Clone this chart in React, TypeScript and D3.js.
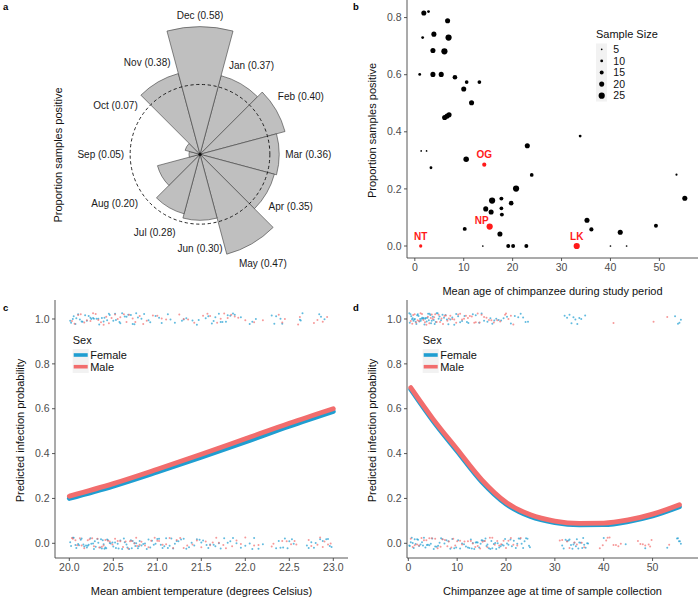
import React from 'react';
import * as d3 from 'd3';

// ---------- Panel a data ----------
const months = ['Jan', 'Feb', 'Mar', 'Apr', 'May', 'Jun', 'Jul', 'Aug', 'Sep', 'Oct', 'Nov', 'Dec'];
const monthProp = [0.37, 0.40, 0.36, 0.35, 0.47, 0.30, 0.28, 0.20, 0.05, 0.07, 0.38, 0.58];

// ---------- Panel b data ----------
const siteAge = [1.84, 2.8, 6.7, 1.6, 3.9, 6.9, 3.7, 6.05, 1.0, 3.7, 5.4, 8.2, 10.6, 13.2, 10.0, 11.6, 6.1, 6.6, 7.0, 1.3, 2.4, 3.3, 10.5, 23.0, 33.8, 23.9, 20.7, 15.8, 17.7, 19.7, 14.5, 15.6, 17.7, 17.8, 10.2, 17.4, 13.9, 19.1, 20.1, 22.8, 40.0, 43.3, 35.2, 36.1, 42.0, 49.3, 53.5, 55.2];
const siteProp = [0.816, 0.821, 0.789, 0.730, 0.742, 0.730, 0.685, 0.682, 0.601, 0.601, 0.601, 0.591, 0.574, 0.574, 0.550, 0.502, 0.450, 0.455, 0.460, 0.333, 0.333, 0.274, 0.304, 0.351, 0.385, 0.249, 0.201, 0.159, 0.166, 0.150, 0.130, 0.119, 0.132, 0.110, 0.060, 0.042, 0, 0, 0, 0, 0, 0, 0.090, 0.058, 0.048, 0.071, 0.250, 0.167];
const siteN = [20, 10, 20, 10, 20, 25, 20, 25, 10, 20, 20, 18, 14, 14, 20, 20, 20, 20, 20, 5, 5, 10, 22, 20, 10, 14, 25, 25, 15, 18, 20, 20, 14, 15, 15, 20, 5, 15, 15, 15, 5, 5, 20, 16, 20, 15, 7, 20];
const namedIds = ['OG', 'NP', 'NT', 'LK'];
const namedAge = [14.2, 15.3, 1.2, 33.1];
const namedProp = [0.285, 0.068, 0, 0];
const namedN = [16, 25, 12, 25];
const sizeLegend = [5, 10, 15, 20, 25];

// ---------- Panel c data ----------
const tempX = [20.0, 20.5, 21.0, 21.5, 22.0, 22.5, 23.0];
const tempPredFemale = [0.200, 0.255, 0.318, 0.384, 0.452, 0.522, 0.588];
const tempPredMale = [0.210, 0.266, 0.330, 0.397, 0.466, 0.535, 0.600];
const tempPosFemale = [20.02, 20.05, 20.08, 20.12, 20.15, 20.18, 20.22, 20.25, 20.28, 20.31, 20.34, 20.37, 20.4, 20.43, 20.46, 20.5, 20.53, 20.57, 20.6, 20.63, 20.67, 20.7, 20.74, 20.78, 20.85, 20.92, 20.98, 21.05, 21.12, 21.2, 21.28, 21.33, 21.4, 21.47, 21.55, 21.62, 21.66, 21.7, 21.74, 21.78, 21.83, 21.88, 21.95, 22.05, 22.12, 22.3, 22.35, 22.42, 22.62, 22.65, 22.84, 22.9,
  20.01, 20.04, 20.07, 20.1, 20.14, 20.2, 20.24, 20.27, 20.33, 20.39, 20.45, 20.52, 20.58, 20.65, 20.72, 20.76, 20.82, 20.9, 21.02, 21.15, 21.3, 21.45, 21.58, 21.64, 21.72, 21.8, 21.86, 22.08, 22.33, 22.4, 22.63, 22.86];
const tempPosMale = [20.03, 20.1, 20.17, 20.24, 20.3, 20.36, 20.42, 20.48, 20.55, 20.62, 20.68, 20.72, 20.8, 20.88, 21.0, 21.1, 21.25, 21.35, 21.52, 21.6, 21.68, 21.76, 21.84, 21.92, 22.0, 22.2, 22.38, 22.45, 22.6, 22.78, 22.88, 22.93,
  20.06, 20.13, 20.2, 20.27, 20.33, 20.39, 20.45, 20.52, 20.58, 20.65, 20.75, 20.84, 20.95, 21.05, 21.3, 21.42, 21.57, 21.72, 21.8, 21.88, 22.1, 22.42, 22.62, 22.82];
const tempNegFemale = [20.02, 20.05, 20.08, 20.1, 20.13, 20.16, 20.19, 20.2, 20.22, 20.25, 20.28, 20.3, 20.33, 20.36, 20.38, 20.4, 20.42, 20.44, 20.47, 20.5, 20.53, 20.56, 20.6, 20.63, 20.66, 20.7, 20.72, 20.75, 20.78, 20.8, 20.84, 20.88, 20.92, 20.96, 21.0, 21.04, 21.08, 21.12, 21.16, 21.2, 21.24, 21.3, 21.36, 21.42, 21.48, 21.52, 21.56, 21.6, 21.66, 21.72, 21.8, 21.86, 21.95, 22.05, 22.1, 22.2, 22.35, 22.4, 22.45, 22.5, 22.55, 22.7, 22.75, 22.8, 22.85, 22.92, 22.96,
  20.01, 20.04, 20.07, 20.11, 20.14, 20.17, 20.21, 20.24, 20.27, 20.29, 20.32, 20.35, 20.37, 20.39, 20.41, 20.43, 20.46, 20.49, 20.52, 20.55, 20.58, 20.62, 20.65, 20.68, 20.71, 20.74, 20.76, 20.79, 20.82, 20.86, 20.9, 20.94, 20.98, 21.02, 21.06, 21.1, 21.14, 21.18, 21.22, 21.27, 21.33, 21.39, 21.45, 21.5, 21.58, 21.64, 21.7, 21.76, 21.83, 21.9, 22.0, 22.08, 22.15, 22.38, 22.43, 22.48, 22.53, 22.72, 22.78, 22.88, 22.94, 22.98];
const tempNegMale = [20.04, 20.09, 20.14, 20.21, 20.26, 20.32, 20.37, 20.41, 20.46, 20.52, 20.58, 20.64, 20.69, 20.74, 20.77, 20.82, 20.9, 20.97, 21.02, 21.1, 21.18, 21.26, 21.34, 21.45, 21.55, 21.63, 21.7, 21.78, 21.9, 22.0, 22.15, 22.32, 22.42, 22.52, 22.58, 22.72, 22.82, 22.88, 22.94,
  20.03, 20.07, 20.12, 20.17, 20.23, 20.28, 20.34, 20.39, 20.44, 20.49, 20.55, 20.61, 20.67, 20.71, 20.76, 20.8, 20.86, 20.93, 21.0, 21.06, 21.14, 21.22, 21.3, 21.4, 21.5, 21.6, 21.67, 21.75, 21.85, 21.95, 22.1, 22.3, 22.47, 22.56, 22.75, 22.85, 22.9, 22.97];

// ---------- Panel d data ----------
const ageX = [0.5, 5, 10, 15, 20, 25, 30, 35, 40, 45, 50, 55.5];
const agePredFemale = [0.686, 0.547, 0.410, 0.275, 0.175, 0.119, 0.092, 0.082, 0.083, 0.097, 0.122, 0.163];
const agePredMale = [0.694, 0.556, 0.419, 0.284, 0.183, 0.127, 0.099, 0.089, 0.090, 0.104, 0.130, 0.172];
const agePosFemale = [0.3, 0.6, 0.9, 1.2, 1.5, 1.8, 2.1, 2.4, 2.7, 3.0, 3.3, 3.6, 3.9, 4.2, 4.5, 4.8, 5.2, 5.6, 6.0, 6.4, 7.0, 7.6, 8.2, 9.0, 9.8, 10.6, 11.5, 12.3, 13.2, 14.5, 15.5, 16.8, 17.6, 18.5, 19.5, 21.0, 22.5, 23.0, 24.0, 24.5, 32.0, 33.0, 33.8, 34.6, 35.4, 36.2, 54.6, 55.2, 55.8,
  0.2, 0.45, 0.75, 1.05, 1.35, 1.65, 1.95, 2.25, 2.55, 2.85, 3.15, 3.45, 3.75, 4.05, 4.35, 4.65, 5.0, 5.4, 5.8, 6.2, 6.7, 7.3, 7.9, 8.6, 9.4, 10.2, 11.0, 12.0, 13.8, 15.0, 16.2, 17.2, 18.0, 19.0, 20.2, 21.8, 23.5, 32.5, 33.4, 34.2, 35.0, 55.5];
const agePosMale = [0.5, 1.0, 1.6, 2.2, 2.8, 3.4, 4.0, 4.6, 5.0, 5.5, 6.2, 6.8, 7.4, 8.0, 8.6, 9.4, 10.2, 11.0, 11.8, 12.6, 13.5, 14.2, 15.0, 16.0, 17.0, 18.2, 19.8, 20.5, 21.5, 42.0, 50.2, 53.0,
  0.8, 1.3, 1.9, 2.5, 3.1, 3.7, 4.3, 4.8, 5.3, 5.8, 6.5, 7.1, 7.7, 8.3, 9.0, 9.8, 10.6, 11.4, 12.2, 13.0, 13.8, 14.6, 15.5, 16.5, 17.5, 18.8, 20.0, 21.0];
const ageNegFemale = [0.3, 0.7, 1.1, 1.5, 2.0, 2.5, 3.0, 3.5, 4.0, 4.6, 5.2, 5.8, 6.4, 7.0, 7.8, 8.6, 9.4, 10.2, 11.0, 11.8, 12.5, 13.0, 13.5, 14.0, 14.5, 15.0, 15.5, 16.0, 16.5, 17.0, 17.5, 18.0, 18.6, 19.2, 19.8, 20.5, 21.2, 22.0, 22.6, 23.2, 23.8, 24.4, 24.9, 31.5, 32.2, 32.8, 33.3, 33.8, 34.3, 34.8, 35.3, 35.8, 36.3, 36.8, 40.0, 44.5, 48.5, 53.0, 55.0, 55.4, 55.8,
  0.2, 0.5, 0.9, 1.3, 1.8, 2.2, 2.8, 3.2, 3.8, 4.3, 4.9, 5.5, 6.1, 6.7, 7.4, 8.2, 9.0, 9.8, 10.6, 11.4, 12.2, 12.8, 13.2, 13.8, 14.2, 14.8, 15.2, 15.8, 16.2, 16.8, 17.2, 17.8, 18.3, 18.9, 19.5, 20.2, 20.9, 21.6, 22.3, 22.9, 23.5, 24.1, 24.7, 31.8, 32.5, 33.0, 33.6, 34.0, 34.5, 35.0, 35.6, 36.0, 36.6, 55.2, 55.6];
const ageNegMale = [0.5, 1.3, 2.2, 3.2, 4.3, 5.5, 6.6, 7.5, 8.3, 9.2, 10.0, 11.5, 12.2, 13.2, 14.2, 15.2, 16.2, 17.2, 18.2, 19.0, 20.0, 21.0, 22.3, 31.0, 32.5, 34.0, 35.5, 39.2, 40.5, 41.2, 42.5, 43.5, 47.0, 48.0, 49.2, 49.8, 53.4,
  0.9, 1.8, 2.7, 3.7, 4.8, 6.0, 7.0, 8.0, 8.8, 9.6, 10.6, 11.0, 12.8, 13.7, 14.7, 15.7, 16.7, 17.7, 18.6, 19.5, 20.5, 21.5, 23.0, 31.5, 33.0, 34.5, 36.0, 39.8, 40.8, 42.0, 43.0, 47.5, 48.5, 49.5];

const sexLabels = ['Female', 'Male'];

// ---------- styles ----------
const FONT = '"Liberation Sans", Arial, Helvetica, sans-serif';
const BLUE = '#1F9ED1';
const RED = '#F26D6D';
const TICK_COLOR = '#4d4d4d';
const AXIS_COLOR = '#444';
const POLAR_LABEL_NUDGE: Record<string, number> = { Jun: 13 };

const fmt1 = d3.format('.1f');
const fmt0 = d3.format('d');

let measureCtx: CanvasRenderingContext2D | null = null;
function textWidth(t: string, font: string) {
  if (!measureCtx) measureCtx = document.createElement('canvas').getContext('2d');
  if (!measureCtx) return t.length * 5.5;
  measureCtx.font = font;
  return measureCtx.measureText(t).width;
}

// deterministic hash-based display jitter (vertical spread of the 0/1 rows)
function jitterY(i: number, amp: number) {
  const h = Math.sin(i * 12.9898 + 78.233) * 43758.5453;
  return ((h - Math.floor(h)) - 0.5) * 2 * amp;
}

type Lin = d3.ScaleLinear<number, number>;

function Axes({ x, y, xTicks, yTicks, xFmt, yFmt, xTitle, yTitle }: any) {
  const [x0, x1] = (x as Lin).range();
  const [y0, y1] = (y as Lin).range();
  return (
    <g fontFamily={FONT}>
      <line x1={x0} x2={x1} y1={y0} y2={y0} stroke={AXIS_COLOR} strokeWidth={0.9} />
      <line x1={x0} x2={x0} y1={y0} y2={y1} stroke={AXIS_COLOR} strokeWidth={0.9} />
      {xTicks.map((t: number) => (
        <g key={'x' + t}>
          <line x1={x(t)} x2={x(t)} y1={y0} y2={y0 + 3} stroke={AXIS_COLOR} strokeWidth={0.9} />
          <text x={x(t)} y={y0 + 13.2} fontSize={10.5} fill={TICK_COLOR} textAnchor="middle">{xFmt(t)}</text>
        </g>
      ))}
      {yTicks.map((t: number) => (
        <g key={'y' + t}>
          <line x1={x0 - 3} x2={x0} y1={y(t)} y2={y(t)} stroke={AXIS_COLOR} strokeWidth={0.9} />
          <text x={x0 - 5.5} y={y(t)} dy="0.35em" fontSize={10.5} fill={TICK_COLOR} textAnchor="end">{yFmt(t)}</text>
        </g>
      ))}
      <text x={(x0 + x1) / 2} y={y0 + 36.5} fontSize={11} textAnchor="middle" fill="#111">{xTitle}</text>
      <text transform={`translate(${x0 - 35},${(y0 + y1) / 2 + 1.5}) rotate(-90)`} dy="0.35em" fontSize={11} textAnchor="middle" fill="#111">{yTitle}</text>
    </g>
  );
}

function PanelA() {
  const cx = 200, cy = 154.3;
  const r = d3.scaleLinear().domain([0, 1]).range([0, 220]);
  const meanVal = d3.mean(monthProp) as number;
  const arc = d3.arc<any>();
  const labelFont = `10px ${FONT}`;
  return (
    <g fontFamily={FONT}>
      <g transform={`translate(${cx},${cy})`}>
        {months.map((m, i) => {
          const ang = ((i + 1) % 12) * Math.PI / 6;
          const d = arc({ innerRadius: 0, outerRadius: r(monthProp[i]), startAngle: ang - Math.PI / 12, endAngle: ang + Math.PI / 12 }) as string;
          return <path key={m} d={d} fill="#bfbfbf" stroke="#3a3a3a" strokeWidth={0.6} />;
        })}
        <circle r={r(meanVal)} fill="none" stroke="#111" strokeWidth={0.9} strokeDasharray="3.2,2.6" />
        <circle r={1.6} fill="#111" />
        {months.map((m, i) => {
          const ang = ((i + 1) % 12) * Math.PI / 6;
          const label = `${m} (${d3.format('.2f')(monthProp[i])})`;
          const w = textWidth(label, labelFont);
          const R = r(Math.max(monthProp[i], meanVal)) + 6 + (POLAR_LABEL_NUDGE[m] || 0);
          const dist = R + (w / 2) * Math.abs(Math.sin(ang)) + 5 * Math.abs(Math.cos(ang));
          return (
            <text key={'l' + m} x={dist * Math.sin(ang)} y={-dist * Math.cos(ang)} dy="0.35em" fontSize={10} textAnchor="middle" fill="#1a1a1a">{label}</text>
          );
        })}
      </g>
      <text transform={`translate(58.3,155) rotate(-90)`} dy="0.35em" fontSize={11} textAnchor="middle" fill="#111">Proportion samples positive</text>
    </g>
  );
}

function PanelB() {
  const x = d3.scaleLinear().domain([-1.6, 57.9]).range([407, 698]);
  const y = d3.scaleLinear().domain([-0.042, 0.8616]).range([258, 0]);
  const size = d3.scaleLinear().domain([5, 25]).range([0.85, 3.1]);
  const labelDx: Record<string, number> = { NP: -8 };
  const labelDy: Record<string, number> = { NP: -6 };
  return (
    <g fontFamily={FONT}>
      <Axes x={x} y={y} xTicks={[0, 10, 20, 30, 40, 50]} yTicks={[0, 0.2, 0.4, 0.6, 0.8]} xFmt={fmt0} yFmt={fmt1}
        xTitle="Mean age of chimpanzee during study period" yTitle="Proportion samples positive" />
      {siteAge.map((a, i) => (
        <circle key={'s' + i} cx={x(a)} cy={y(siteProp[i])} r={size(siteN[i])} fill="#000" />
      ))}
      {namedIds.map((id, i) => (
        <g key={id}>
          <circle cx={x(namedAge[i])} cy={y(namedProp[i])} r={size(namedN[i])} fill="#ff1a1a" />
          <text x={x(namedAge[i]) + (labelDx[id] || 0)} y={y(namedProp[i]) + (labelDy[id] ?? -10)} dy="0.35em"
            fontSize={10} fontWeight="bold" fill="#ff1a1a" textAnchor="middle">{id}</text>
        </g>
      ))}
      <text x={596} y={34} dy="0.35em" fontSize={11} fill="#111">Sample Size</text>
      <rect x={596} y={43.5} width={11} height={58} fill="#f2f2f2" />
      {sizeLegend.map((s, i) => (
        <g key={'lg' + s}>
          <circle cx={601.7} cy={49.3 + i * 11.6} r={size(s)} fill="#000" />
          <text x={613.3} y={49.3 + i * 11.6} dy="0.35em" fontSize={10.5} fill="#111">{s}</text>
        </g>
      ))}
    </g>
  );
}

function SexLegend({ x0, y0 }: { x0: number; y0: number }) {
  const colors = [BLUE, RED];
  return (
    <g fontFamily={FONT}>
      <text x={x0} y={y0} dy="0.35em" fontSize={11} fill="#111">Sex</text>
      <rect x={x0} y={y0 + 9} width={16} height={24} fill="#f2f2f2" />
      {sexLabels.map((s, i) => (
        <g key={s}>
          <line x1={x0 + 1} x2={x0 + 15} y1={y0 + 15 + i * 11.7} y2={y0 + 15 + i * 11.7} stroke={colors[i]} strokeWidth={3.6} />
          <text x={x0 + 17.5} y={y0 + 15 + i * 11.7} dy="0.35em" fontSize={11} fill="#111">{s}</text>
        </g>
      ))}
    </g>
  );
}

function ModelPanel({ x, y, xTicks, xFmt, xTitle, curveX, fem, mal, posF, posM, negF, negM, legendX }: any) {
  const line = d3.line<number>().x((_, i) => x(curveX[i])).y((d) => y(d)).curve(d3.curveMonotoneX);
  const pts = (arr: number[], level: number, color: string, seed: number) =>
    arr.map((v, i) => (
      <circle key={color + level + i} cx={x(v)} cy={y(level + jitterY(i + seed, 0.026))} r={1.0} fill={color} opacity={0.7} />
    ));
  return (
    <g>
      <Axes x={x} y={y} xTicks={xTicks} yTicks={[0, 0.2, 0.4, 0.6, 0.8, 1.0]} xFmt={xFmt} yFmt={fmt1}
        xTitle={xTitle} yTitle="Predicted infection probability" />
      {pts(posF, 1, BLUE, 0)}
      {pts(posM, 1, RED, 500)}
      {pts(negF, 0, BLUE, 1000)}
      {pts(negM, 0, RED, 1500)}
      <path d={line(fem) as string} fill="none" stroke={BLUE} strokeWidth={4.8} strokeLinecap="round" />
      <path d={line(mal) as string} fill="none" stroke={RED} strokeWidth={4.8} strokeLinecap="round" />
      <SexLegend x0={legendX} y0={340} />
    </g>
  );
}

export default function App() {
  const xC = d3.scaleLinear().domain([19.8375, 23.167]).range([55, 348]);
  const yC = d3.scaleLinear().domain([-0.0655, 1.0847]).range([558, 300]);
  const xD = d3.scaleLinear().domain([-0.27, 59.3]).range([407, 698]);
  const yD = d3.scaleLinear().domain([-0.0655, 1.0847]).range([558, 300]);
  return (
    <svg width={700} height={599} style={{ position: 'absolute', left: 0, top: 0, background: '#fff' }} fontFamily={FONT}>
      <rect width={700} height={599} fill="#fff" />
      <PanelA />
      <PanelB />
      <ModelPanel x={xC} y={yC} xTicks={[20, 20.5, 21, 21.5, 22, 22.5, 23]} xFmt={fmt1}
        xTitle="Mean ambient temperature (degrees Celsius)" curveX={tempX} fem={tempPredFemale} mal={tempPredMale}
        posF={tempPosFemale} posM={tempPosMale} negF={tempNegFemale} negM={tempNegMale} legendX={72.7} />
      <ModelPanel x={xD} y={yD} xTicks={[0, 10, 20, 30, 40, 50]} xFmt={fmt0}
        xTitle="Chimpanzee age at time of sample collection" curveX={ageX} fem={agePredFemale} mal={agePredMale}
        posF={agePosFemale} posM={agePosMale} negF={ageNegFemale} negM={ageNegMale} legendX={422.7} />
      <g fontFamily={FONT} fontWeight="bold" fontSize={9.5} fill="#000">
        <text x={3} y={10}>a</text>
        <text x={353} y={10}>b</text>
        <text x={3} y={311}>c</text>
        <text x={353} y={311}>d</text>
      </g>
    </svg>
  );
}
